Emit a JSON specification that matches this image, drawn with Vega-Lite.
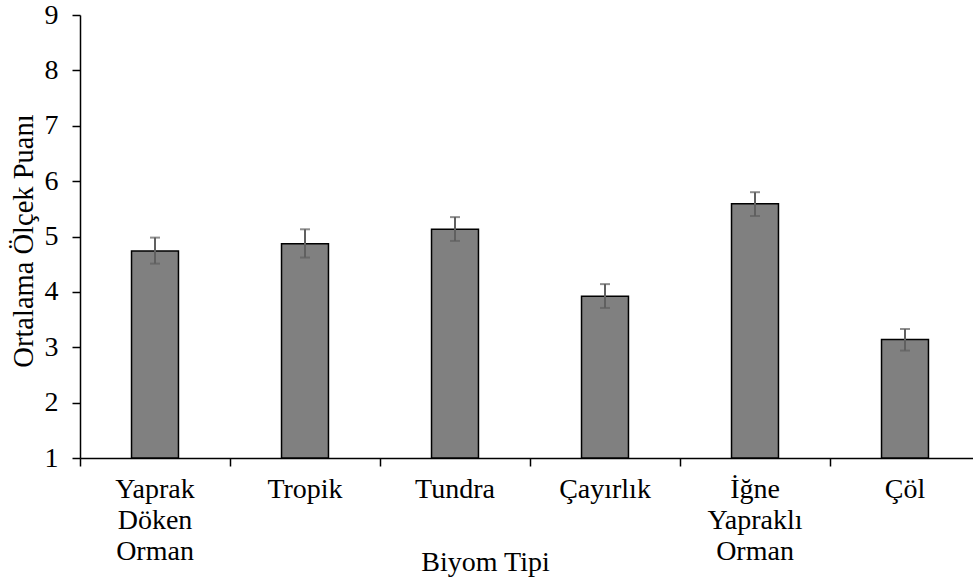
{
  "$schema": "https://vega.github.io/schema/vega-lite/v6.json",
  "width": 900,
  "height": 443,
  "autosize": {"type": "none"},
  "padding": {"left": 80, "top": 15, "right": 0, "bottom": 122},
  "background": "white",
  "config": {
    "view": {"stroke": null},
    "font": "Liberation Serif"
  },
  "data": {
    "values": [
      {"biyom": "Yaprak Döken Orman", "mean": 4.74, "lo": 4.51, "hi": 4.98},
      {"biyom": "Tropik", "mean": 4.87, "lo": 4.62, "hi": 5.13},
      {"biyom": "Tundra", "mean": 5.13, "lo": 4.92, "hi": 5.35},
      {"biyom": "Çayırlık", "mean": 3.92, "lo": 3.71, "hi": 4.14},
      {"biyom": "İğne Yapraklı Orman", "mean": 5.59, "lo": 5.37, "hi": 5.80},
      {"biyom": "Çöl", "mean": 3.14, "lo": 2.94, "hi": 3.33}
    ]
  },
  "encoding": {
    "x": {
      "field": "biyom",
      "type": "nominal",
      "sort": null,
      "scale": {"paddingInner": 0, "paddingOuter": 0},
      "axis": {
        "title": "Biyom Tipi",
        "titleFont": "Liberation Serif",
        "titleFontSize": 28,
        "titleFontWeight": "normal",
        "titleColor": "black",
        "titleX": 405,
        "titleY": 112,
        "titleBaseline": "alphabetic",
        "titleAlign": "center",
        "labelAngle": 0,
        "labelFont": "Liberation Serif",
        "labelFontSize": 28,
        "labelColor": "black",
        "labelLineHeight": 31,
        "labelPadding": 9,
        "labelExpr": "split(datum.label, ' ')",
        "bandPosition": 0,
        "ticks": true,
        "tickSize": 8,
        "tickColor": "black",
        "tickWidth": 1.5,
        "domainColor": "black",
        "domainWidth": 1.5,
        "grid": false
      }
    }
  },
  "layer": [
    {
      "mark": {"type": "bar", "fill": "#808080", "stroke": "black", "strokeWidth": 1.5, "width": {"band": 0.313}},
      "encoding": {
        "y": {
          "field": "mean",
          "type": "quantitative",
          "scale": {"domain": [1, 9], "nice": false, "zero": false},
          "axis": {
            "title": "Ortalama Ölçek Puanı",
            "titleFont": "Liberation Serif",
            "titleFontSize": 28.5,
            "titleFontWeight": "normal",
            "titleColor": "black",
            "titleX": -48,
            "titleY": 225.5,
            "titleAngle": -90,
            "titleAlign": "center",
            "titleBaseline": "alphabetic",
            "values": [1, 2, 3, 4, 5, 6, 7, 8, 9],
            "format": "d",
            "labelFont": "Liberation Serif",
            "labelFontSize": 28,
            "labelColor": "black",
            "labelPadding": 14,
            "tickSize": 8,
            "tickColor": "black",
            "tickWidth": 1.5,
            "domainColor": "black",
            "domainWidth": 1.5,
            "grid": false
          }
        },
        "y2": {"datum": 1}
      }
    },
    {
      "mark": {"type": "rule", "color": "#606060", "strokeWidth": 2},
      "encoding": {
        "y": {"field": "lo", "type": "quantitative"},
        "y2": {"field": "hi"}
      }
    },
    {
      "mark": {"type": "tick", "color": "#606060", "size": 10, "thickness": 2, "orient": "horizontal"},
      "encoding": {
        "y": {"field": "lo", "type": "quantitative"}
      }
    },
    {
      "mark": {"type": "tick", "color": "#606060", "size": 10, "thickness": 2, "orient": "horizontal"},
      "encoding": {
        "y": {"field": "hi", "type": "quantitative"}
      }
    }
  ]
}
